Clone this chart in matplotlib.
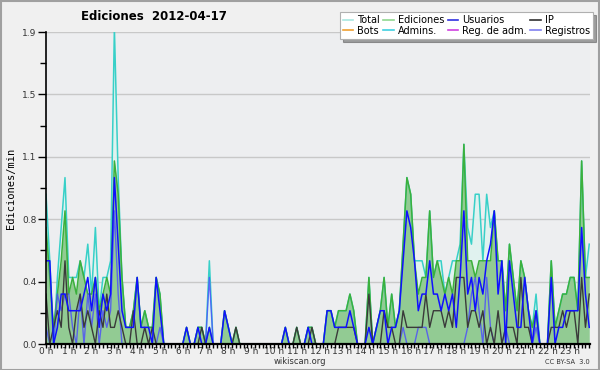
import matplotlib
import matplotlib.pyplot as plt
from matplotlib.patches import Rectangle
import numpy as np

matplotlib.use("Agg")

# Edits per minute, one value per 10 minutes (6 per hour, 0h..23h)
total = [
    0.9, 0.5, 0.0, 0.4, 0.7, 1.0,
    0.4, 0.4, 0.4, 0.5, 0.4, 0.6,
    0.3, 0.7, 0.2, 0.4, 0.4, 0.5,
    1.9, 1.0, 0.4, 0.1, 0.1, 0.2,
    0.4, 0.1, 0.2, 0.1, 0.1, 0.4,
    0.3, 0.0, 0.0, 0.0, 0.0, 0.0,
    0.0, 0.1, 0.0, 0.0, 0.1, 0.1,
    0.0, 0.5, 0.0, 0.0, 0.0, 0.2,
    0.1, 0.0, 0.1, 0.0, 0.0, 0.0,
    0.0, 0.0, 0.0, 0.0, 0.0, 0.0,
    0.0, 0.0, 0.0, 0.1, 0.0, 0.0,
    0.1, 0.0, 0.0, 0.1, 0.1, 0.0,
    0.0, 0.0, 0.2, 0.2, 0.1, 0.2,
    0.2, 0.2, 0.3, 0.2, 0.0, 0.0,
    0.0, 0.4, 0.0, 0.1, 0.2, 0.4,
    0.1, 0.3, 0.1, 0.2, 0.6, 1.0,
    0.9, 0.5, 0.5, 0.5, 0.4, 0.8,
    0.4, 0.5, 0.5, 0.3, 0.4, 0.5,
    0.5, 0.6, 1.2, 0.7, 0.6, 0.9,
    0.9, 0.5, 0.9, 0.7, 0.8, 0.5,
    0.5, 0.2, 0.6, 0.4, 0.2, 0.5,
    0.4, 0.2, 0.1, 0.3, 0.0, 0.0,
    0.0, 0.5, 0.1, 0.2, 0.3, 0.3,
    0.4, 0.4, 0.2, 1.1, 0.4, 0.6,
]

ediciones = [
    0.7, 0.4, 0.1, 0.3, 0.5, 0.8,
    0.3, 0.4, 0.3, 0.5, 0.4, 0.3,
    0.3, 0.4, 0.2, 0.3, 0.4, 0.3,
    1.1, 0.9, 0.4, 0.1, 0.1, 0.2,
    0.4, 0.1, 0.2, 0.1, 0.1, 0.4,
    0.3, 0.0, 0.0, 0.0, 0.0, 0.0,
    0.0, 0.1, 0.0, 0.0, 0.1, 0.1,
    0.0, 0.1, 0.0, 0.0, 0.0, 0.2,
    0.1, 0.0, 0.1, 0.0, 0.0, 0.0,
    0.0, 0.0, 0.0, 0.0, 0.0, 0.0,
    0.0, 0.0, 0.0, 0.1, 0.0, 0.0,
    0.1, 0.0, 0.0, 0.1, 0.1, 0.0,
    0.0, 0.0, 0.2, 0.2, 0.1, 0.2,
    0.2, 0.2, 0.3, 0.2, 0.0, 0.0,
    0.0, 0.4, 0.0, 0.1, 0.2, 0.4,
    0.1, 0.3, 0.1, 0.2, 0.6, 1.0,
    0.9, 0.5, 0.3, 0.4, 0.4, 0.8,
    0.4, 0.5, 0.4, 0.3, 0.4, 0.3,
    0.5, 0.5, 1.2, 0.5, 0.5, 0.4,
    0.5, 0.5, 0.5, 0.5, 0.8, 0.5,
    0.5, 0.2, 0.6, 0.4, 0.2, 0.5,
    0.4, 0.2, 0.1, 0.2, 0.0, 0.0,
    0.0, 0.5, 0.1, 0.2, 0.3, 0.3,
    0.4, 0.4, 0.2, 1.1, 0.4, 0.4,
]

usuarios = [
    0.5, 0.5, 0.0, 0.1, 0.3, 0.3,
    0.2, 0.2, 0.2, 0.2, 0.3, 0.4,
    0.2, 0.4, 0.1, 0.3, 0.2, 0.3,
    1.0, 0.6, 0.2, 0.1, 0.1, 0.1,
    0.4, 0.1, 0.1, 0.1, 0.0, 0.4,
    0.2, 0.0, 0.0, 0.0, 0.0, 0.0,
    0.0, 0.1, 0.0, 0.0, 0.1, 0.0,
    0.0, 0.1, 0.0, 0.0, 0.0, 0.2,
    0.1, 0.0, 0.0, 0.0, 0.0, 0.0,
    0.0, 0.0, 0.0, 0.0, 0.0, 0.0,
    0.0, 0.0, 0.0, 0.1, 0.0, 0.0,
    0.0, 0.0, 0.0, 0.1, 0.0, 0.0,
    0.0, 0.0, 0.2, 0.2, 0.1, 0.1,
    0.1, 0.1, 0.2, 0.1, 0.0, 0.0,
    0.0, 0.1, 0.0, 0.1, 0.2, 0.2,
    0.0, 0.1, 0.1, 0.2, 0.5, 0.8,
    0.7, 0.5, 0.2, 0.3, 0.3, 0.5,
    0.3, 0.3, 0.2, 0.3, 0.2, 0.3,
    0.1, 0.4, 0.8, 0.3, 0.4, 0.2,
    0.4, 0.3, 0.5, 0.6, 0.8, 0.3,
    0.5, 0.0, 0.5, 0.3, 0.1, 0.1,
    0.4, 0.2, 0.0, 0.2, 0.0, 0.0,
    0.0, 0.4, 0.0, 0.1, 0.1, 0.2,
    0.2, 0.2, 0.2, 0.7, 0.3, 0.1,
]

ip = [
    0.3, 0.0, 0.1, 0.2, 0.1, 0.5,
    0.1, 0.0, 0.2, 0.3, 0.1, 0.2,
    0.1, 0.0, 0.2, 0.1, 0.3, 0.1,
    0.1, 0.2, 0.1, 0.0, 0.0, 0.2,
    0.0, 0.0, 0.1, 0.0, 0.1, 0.0,
    0.0, 0.0, 0.0, 0.0, 0.0, 0.0,
    0.0, 0.0, 0.0, 0.0, 0.0, 0.1,
    0.0, 0.0, 0.0, 0.0, 0.0, 0.0,
    0.0, 0.0, 0.1, 0.0, 0.0, 0.0,
    0.0, 0.0, 0.0, 0.0, 0.0, 0.0,
    0.0, 0.0, 0.0, 0.0, 0.0, 0.0,
    0.1, 0.0, 0.0, 0.0, 0.1, 0.0,
    0.0, 0.0, 0.0, 0.0, 0.0, 0.1,
    0.1, 0.1, 0.1, 0.1, 0.0, 0.0,
    0.0, 0.3, 0.0, 0.0, 0.0, 0.2,
    0.1, 0.1, 0.0, 0.0, 0.2, 0.1,
    0.1, 0.1, 0.1, 0.1, 0.3, 0.1,
    0.2, 0.2, 0.2, 0.1, 0.2, 0.1,
    0.4, 0.4, 0.4, 0.1, 0.2, 0.2,
    0.1, 0.2, 0.0, 0.1, 0.0, 0.2,
    0.0, 0.1, 0.1, 0.1, 0.0, 0.4,
    0.1, 0.1, 0.0, 0.0, 0.0, 0.0,
    0.0, 0.1, 0.1, 0.1, 0.2, 0.1,
    0.2, 0.2, 0.0, 0.4, 0.1, 0.3,
]

registros = [
    0.1, 0.0, 0.0, 0.3, 0.2, 0.3,
    0.3, 0.1, 0.0, 0.3, 0.0, 0.3,
    0.1, 0.3, 0.0, 0.2, 0.1, 0.2,
    0.8, 0.3, 0.0, 0.0, 0.0, 0.0,
    0.0, 0.0, 0.0, 0.0, 0.0, 0.0,
    0.1, 0.0, 0.0, 0.0, 0.0, 0.0,
    0.0, 0.0, 0.0, 0.0, 0.0, 0.0,
    0.0, 0.4, 0.0, 0.0, 0.0, 0.0,
    0.0, 0.0, 0.0, 0.0, 0.0, 0.0,
    0.0, 0.0, 0.0, 0.0, 0.0, 0.0,
    0.0, 0.0, 0.0, 0.0, 0.0, 0.0,
    0.0, 0.0, 0.0, 0.0, 0.0, 0.0,
    0.0, 0.0, 0.0, 0.0, 0.0, 0.0,
    0.0, 0.0, 0.0, 0.0, 0.0, 0.0,
    0.0, 0.0, 0.0, 0.0, 0.0, 0.0,
    0.0, 0.0, 0.0, 0.0, 0.1, 0.0,
    0.0, 0.0, 0.1, 0.1, 0.1, 0.0,
    0.0, 0.0, 0.0, 0.0, 0.0, 0.0,
    0.0, 0.0, 0.0, 0.1, 0.3, 0.4,
    0.2, 0.0, 0.4, 0.1, 0.0, 0.0,
    0.0, 0.1, 0.0, 0.0, 0.0, 0.0,
    0.0, 0.0, 0.0, 0.1, 0.0, 0.0,
    0.0, 0.0, 0.0, 0.0, 0.0, 0.0,
    0.0, 0.0, 0.0, 0.0, 0.0, 0.0,
]

hour_labels = [f"{h} h" for h in range(24)]
ytick_labels = ["0.0", "0.4", "0.8", "1.1", "1.5", "1.9"]

legend_rows = [
    ("Total", "#a8e8e0"), ("Bots", "#f0a030"),
    ("Ediciones", "#90d890"), ("Admins.", "#40d0e0"),
    ("Usuarios", "#3030e0"), ("Reg. de adm.", "#d040e0"),
    ("IP", "#303030"), ("Registros", "#8080f0"),
]

x = np.arange(len(total))

fig = plt.figure(figsize=(6, 3.7), dpi=100, facecolor="#f0f0f0")
fig.add_artist(Rectangle((0.001, 0.001), 0.997, 0.996, transform=fig.transFigure,
                         fill=False, edgecolor="#a0a0a0", linewidth=1.5))
ax = fig.add_axes([46 / 600, 26 / 370, 544 / 600, 312 / 370])
ax.set_facecolor("#edeef0")

ax.fill_between(x, total, color="#dff3ef", alpha=0.9, linewidth=0)
ax.plot(x, total, color="#38d0c8", linewidth=1.1)
ax.fill_between(x, ediciones, color="#8ec98e", alpha=0.95, linewidth=0)
ax.plot(x, ediciones, color="#3cb03c", linewidth=1.1)
ax.plot(x, registros, color="#4a4aff", linewidth=1.0, alpha=0.8)
ax.plot(x, ip, color="#3a3a3a", linewidth=1.0)
ax.plot(x, usuarios, color="#1010ff", linewidth=1.1)

ax.set_xlim(0, 143.2)
ax.set_ylim(0, 1.875)

ax.set_yticks(np.arange(6) * 0.375)
ax.set_yticklabels(ytick_labels)
ax.set_yticks(np.arange(5) * 0.375 + 0.1875, minor=True)
ax.set_xticks(np.arange(24) * 6)
ax.set_xticklabels(hour_labels)
ax.set_xticks(np.arange(144), minor=True)
ax.grid(axis="y", which="major", color="#c8c8c8", linewidth=1)
ax.set_axisbelow(True)

for side in ["top", "right"]:
    ax.spines[side].set_visible(False)
ax.spines["left"].set_linewidth(1.2)
ax.spines["bottom"].set_linewidth(1.6)
ax.tick_params(axis="both", which="major", labelsize=6.5, colors="black",
               labelcolor="#333333")
ax.tick_params(axis="y", which="major", length=6, width=1, pad=1)
ax.tick_params(axis="y", which="minor", length=4, width=1)
ax.tick_params(axis="x", which="major", length=3, width=1, pad=-0.5)
ax.tick_params(axis="x", which="minor", length=3, width=1)

ax.set_ylabel("Ediciones/min", fontsize=7.5, family="DejaVu Sans Mono", labelpad=4)

fig.text(154 / 600, 1 - 16 / 370, "Ediciones  2012-04-17", ha="center", va="center",
         fontsize=8.5, fontweight="bold")
fig.text(300 / 600, 1 - 362 / 370, "wikiscan.org", ha="center", va="center",
         fontsize=6, color="#333333")
fig.text(590 / 600, 1 - 362 / 370, "CC BY-SA  3.0", ha="right", va="center",
         fontsize=4.8, color="#333333")

handles = [plt.Line2D([], [], color=c, linewidth=1.2) for _, c in legend_rows]
labels = [n for n, _ in legend_rows]
leg = fig.legend(handles, labels, ncol=4, loc="upper right",
                 bbox_to_anchor=(593 / 600, 1 - 12 / 370), fontsize=7,
                 frameon=True, fancybox=False, shadow=True, handlelength=1.1,
                 handletextpad=0.4, columnspacing=0.35, labelspacing=0.1,
                 borderpad=0.3, borderaxespad=0)
leg.get_frame().set_edgecolor("#b0b0b0")
leg.get_frame().set_linewidth(0.8)

fig.savefig("out.png", dpi=100, facecolor=fig.get_facecolor())
